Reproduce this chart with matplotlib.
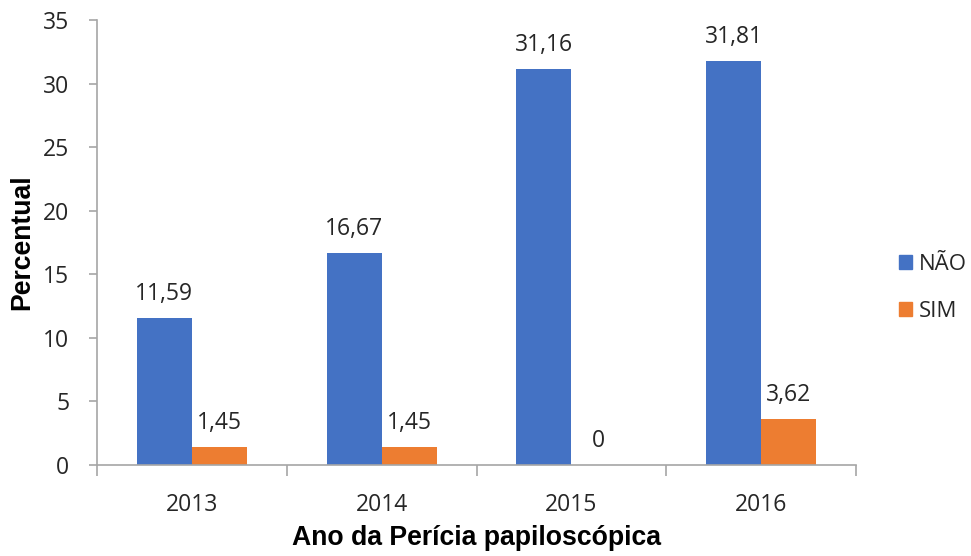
import matplotlib.pyplot as plt
from matplotlib.patches import Patch
import numpy as np

anos = ['2013', '2014', '2015', '2016']
nao = [11.59, 16.67, 31.16, 31.81]
sim = [1.45, 1.45, 0, 3.62]
nao_labels = ['11,59', '16,67', '31,16', '31,81']
sim_labels = ['1,45', '1,45', '0', '3,62']

azul = '#4472C4'
laranja = '#ED7D31'
cinza = '#A6A6A6'
texto = '#262626'

fig = plt.figure(figsize=(9.71, 5.56), dpi=100)
ax = fig.add_axes([97 / 971, 91 / 556, 759 / 971, 445 / 556])

x = np.arange(len(anos))
w = 0.29
b1 = ax.bar(x - w / 2, nao, w, color=azul)
b2 = ax.bar(x + w / 2, sim, w, color=laranja)

for bars, labels in ((b1, nao_labels), (b2, sim_labels)):
    for bar, lab in zip(bars, labels):
        ax.annotate(lab, (bar.get_x() + bar.get_width() / 2, bar.get_height()),
                    xytext=(0, 13), textcoords='offset points',
                    ha='center', va='baseline', fontsize=16.5,
                    family='Open Sans', color=texto)

ax.set_xlim(-0.5, 3.5)
ax.set_ylim(0, 35)
ax.set_yticks(np.arange(0, 36, 5))
ax.set_xticks(x)
ax.set_xticklabels(anos)
ax.set_xticks(np.arange(-0.5, 3.6, 1), minor=True)

for s in ['top', 'right']:
    ax.spines[s].set_visible(False)
for s in ['left', 'bottom']:
    ax.spines[s].set_color(cinza)
    ax.spines[s].set_linewidth(1.2)

ax.tick_params(axis='y', length=6, color=cinza, width=1.2, pad=14,
               labelsize=16.5, labelcolor=texto)
ax.tick_params(axis='x', which='major', length=0, pad=20,
               labelsize=16.5, labelcolor=texto)
ax.tick_params(axis='x', which='minor', length=8, color=cinza, width=1.2)
for lab in ax.get_xticklabels() + ax.get_yticklabels():
    lab.set_family('Open Sans')

ax.set_xlabel('Ano da Perícia papiloscópica', fontsize=19.2, fontweight='bold',
              family='Liberation Sans', color='black', labelpad=6)
ax.set_ylabel('Percentual', fontsize=19.2, fontweight='bold',
              family='Liberation Sans', color='black', va='center')
ax.yaxis.set_label_coords((22 - 97) / 759, 0.5)

handles = [Patch(color=azul, label='NÃO'), Patch(color=laranja, label='SIM')]
fig.legend(handles=handles, loc='center left', bbox_to_anchor=(899 / 971, 268 / 556),
           frameon=False, borderpad=0, borderaxespad=0,
           handlelength=0.6, handleheight=0.6, handletextpad=0.3,
           labelspacing=1.15, prop={'family': 'Open Sans', 'size': 16},
           labelcolor=texto)

fig.savefig('out.png', dpi=100)
